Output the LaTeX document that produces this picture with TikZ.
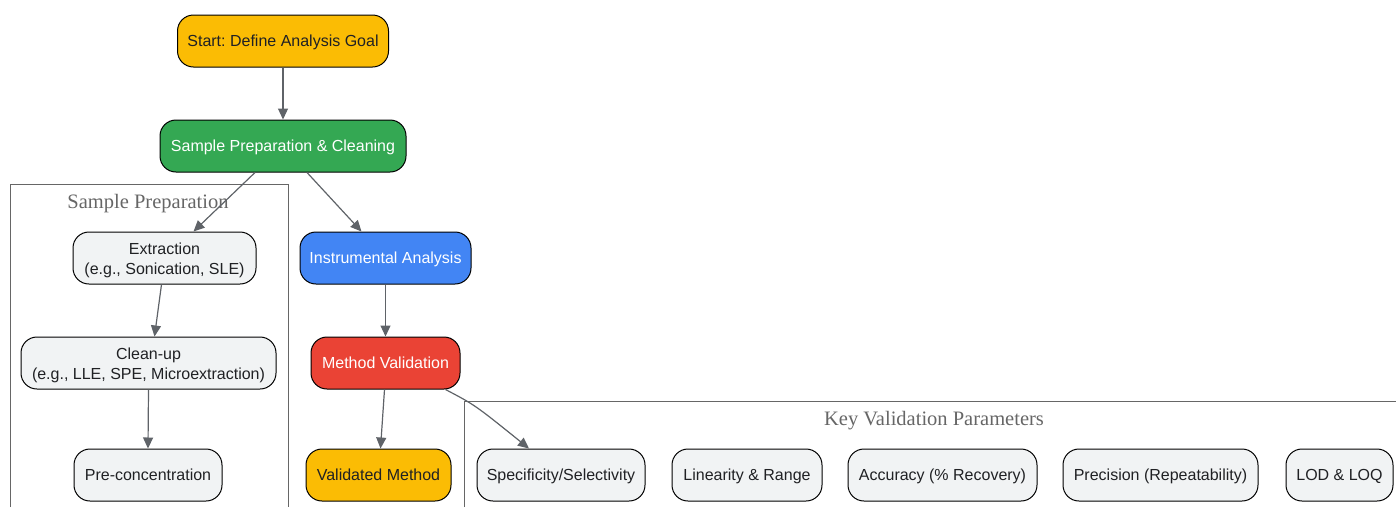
\documentclass[tikz,border=0pt]{standalone}
\usepackage{fontspec}
\setmainfont{Liberation Sans}
\newfontfamily\titlefont{Liberation Serif}
\usetikzlibrary{arrows.meta}
\frenchspacing
\definecolor{gyellow}{HTML}{FBBC04}
\definecolor{ggreen}{HTML}{34A853}
\definecolor{gblue}{HTML}{4285F4}
\definecolor{gred}{HTML}{EA4335}
\definecolor{glight}{HTML}{F1F3F4}
\definecolor{edgegray}{HTML}{5F6368}
\definecolor{darktext}{HTML}{202124}
\definecolor{clustergray}{HTML}{666666}
\newcommand\onefix{\rule[-3.4pt]{0pt}{16.8pt}}
\newcommand\topfix{\rule{0pt}{17pt}}
\newcommand\botfix{\rule[-3.4pt]{0pt}{3.4pt}}
\tikzset{
  box/.style={draw=black, line width=1pt, rounded corners=16pt, align=center,
    font=\fontsize{16}{20}\selectfont\frenchspacing, text=darktext, inner sep=0pt, minimum height=52pt},
  ybox/.style={box, fill=gyellow},
  gbox/.style={box, fill=ggreen, text=white},
  bbox/.style={box, fill=gblue, text=white},
  rbox/.style={box, fill=gred, text=white},
  lbox/.style={box, fill=glight},
  flow/.style={draw=edgegray, line width=1.2pt, -{Triangle[length=11pt,width=10pt]}},
  cluster/.style={draw=clustergray, line width=1pt},
  ctitle/.style={font=\titlefont\fontsize{20.5}{24}\selectfont, text=clustergray}
}
\begin{document}
\begin{tikzpicture}[x=1pt,y=-1pt]
\useasboundingbox (0,0) rectangle (1396,507);
% clusters
\draw[cluster] (10,507) -- (10,184) -- (288,184) -- (288,507);
\node[ctitle] (t1) at (148,204) {Sample Preparation};
\draw[cluster] (464,507) -- (464,401) -- (1396,401);
\node[ctitle] (t2) at (934,421) {Key Validation Parameters};
% nodes
\node[ybox, minimum width=211pt] (start) at (283,41) {\onefix Start: Define Analysis Goal};
\node[gbox, minimum width=246pt] (spc) at (283,146) {\onefix Sample Preparation \& Cleaning};
\node[lbox, minimum width=183pt] (ext) at (164.5,258) {\topfix Extraction\\(e.g., Sonication, SLE)\botfix};
\node[lbox, minimum width=255pt] (clean) at (148.5,363) {\topfix Clean-up\\(e.g., LLE, SPE, Microextraction)\botfix};
\node[lbox, minimum width=148pt] (pre) at (148,475) {\onefix Pre-concentration};
\node[bbox, minimum width=171pt] (ia) at (385.5,258) {\onefix Instrumental Analysis};
\node[rbox, minimum width=149pt] (mv) at (385.5,363) {\onefix Method Validation};
\node[ybox, minimum width=145pt] (vm) at (378.5,475) {\onefix Validated Method};
\node[lbox, minimum width=168pt] (p1) at (561,475) {\onefix Specificity/Selectivity};
\node[lbox, minimum width=150pt] (p2) at (747,475) {\onefix Linearity \& Range};
\node[lbox, minimum width=189pt] (p3) at (942.5,475) {\onefix Accuracy (\% Recovery)};
\node[lbox, minimum width=195pt] (p4) at (1160.5,475) {\onefix Precision (Repeatability)};
\node[lbox, minimum width=107pt] (p5) at (1339.5,475) {\onefix LOD \& LOQ};
% edges
\draw[flow] (start.south) -- (spc.north);
\draw[flow] ([xshift=-28pt]spc.south) -- ([xshift=29pt]ext.north);
\draw[flow] ([xshift=24pt]spc.south) -- ([xshift=-24pt]ia.north);
\draw[flow] ([xshift=-3pt]ext.south) -- ([xshift=6pt]clean.north);
\draw[flow] (clean.south) -- (pre.north);
\draw[flow] (ia.south) -- (mv.north);
\draw[flow] ([xshift=-1pt]mv.south) -- ([xshift=2pt]vm.north);
\draw[flow] ([xshift=-15pt]mv.south east) .. controls (475,405) .. ([xshift=-32pt]p1.north);
\end{tikzpicture}
\end{document}
